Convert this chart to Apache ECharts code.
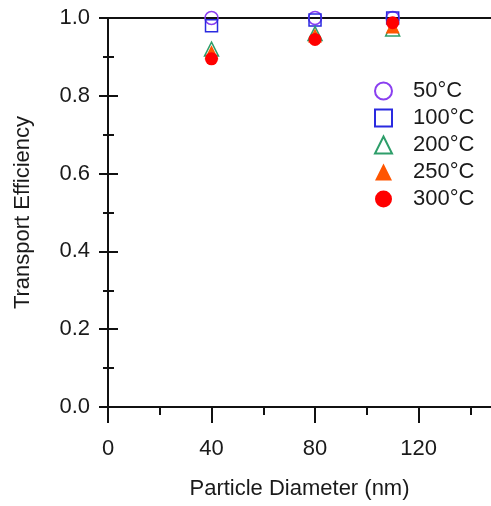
<!DOCTYPE html>
<html>
<head>
<meta charset="utf-8">
<script src="https://cdn.jsdelivr.net/npm/echarts@6/dist/echarts.min.js"></script>
<style>
  html, body { margin: 0; padding: 0; background: #fff; }
  #chart { width: 491px; height: 506px; }
</style>
</head>
<body>
<div id="chart"></div>
<script>
// Particle diameters (nm) measured at each temperature
const diameters = [40, 80, 110];

// Transport efficiency per temperature
const eff50 = [1.0, 1.0, 1.0];
const eff100 = [0.98, 0.995, 1.0];
const eff200 = [0.92, 0.96, 0.972];
const eff250 = [0.912, 0.955, 0.978];
const eff300 = [0.895, 0.945, 0.988];

const seriesNames = ['50°C', '100°C', '200°C', '250°C', '300°C'];

// Axis tick positions
const xMajorTicks = [0, 40, 80, 120];
const xMinorTicks = [20, 60, 100, 140];

const FONT = '"Liberation Sans", Arial, sans-serif';
const INK = '#111';

function pairs(ys) {
  return diameters.map((d, i) => [d, ys[i]]);
}

const chart = echarts.init(document.getElementById('chart'));

const xBase = { type: 'value', min: 0, max: 148, gridIndex: 0, splitLine: { show: false } };
const yBase = { type: 'value', min: 0, max: 1, interval: 0.2, splitLine: { show: false } };

chart.setOption({
  animation: false,
  backgroundColor: '#fff',
  textStyle: { fontFamily: FONT },
  grid: { left: 108, right: 0, top: 18, bottom: 99, containLabel: false },
  legend: {
    orient: 'vertical',
    left: 369,
    top: 75,
    itemGap: 5,
    itemWidth: 17,
    itemHeight: 17,
    textStyle: { fontSize: 22, color: '#1a1a1a', fontFamily: FONT, padding: [0, 0, 0, 16] },
    data: seriesNames
  },
  xAxis: [
    Object.assign({}, xBase, {
      position: 'bottom',
      name: 'Particle Diameter (nm)',
      nameLocation: 'middle',
      nameGap: 71,
      nameTextStyle: { fontSize: 22, color: '#1a1a1a', fontFamily: FONT },
      axisLine: { show: true, onZero: false, lineStyle: { color: INK, width: 2 } },
      axisTick: { show: true, length: 16, customValues: xMajorTicks, lineStyle: { color: INK, width: 2 } },
      axisLabel: { customValues: xMajorTicks, fontSize: 22, color: '#1a1a1a', margin: 31, fontFamily: FONT }
    }),
    Object.assign({}, xBase, {
      position: 'bottom',
      axisLine: { show: false, onZero: false },
      axisTick: { show: true, length: 8, customValues: xMinorTicks, lineStyle: { color: INK, width: 2 } },
      axisLabel: { show: false }
    }),
    Object.assign({}, xBase, {
      position: 'top',
      axisLine: { show: true, onZero: false, lineStyle: { color: INK, width: 2 } },
      axisTick: { show: false },
      axisLabel: { show: false }
    })
  ],
  yAxis: [
    Object.assign({}, yBase, {
      position: 'left',
      name: 'Transport Efficiency',
      nameLocation: 'middle',
      nameGap: 74,
      nameTextStyle: { fontSize: 22, color: '#1a1a1a', fontFamily: FONT },
      axisLine: { show: true, onZero: false, lineStyle: { color: INK, width: 2 } },
      axisTick: { show: true, length: 9, lineStyle: { color: INK, width: 2 } },
      minorTick: { show: true, splitNumber: 2, length: 5, lineStyle: { color: INK, width: 2 } },
      axisLabel: {
        fontSize: 22, color: '#1a1a1a', margin: 18, fontFamily: FONT,
        formatter: v => v.toFixed(1)
      }
    }),
    Object.assign({}, yBase, {
      position: 'left',
      axisLine: { show: false, onZero: false },
      axisTick: { show: true, inside: true, length: 10, lineStyle: { color: INK, width: 2 } },
      minorTick: { show: true, splitNumber: 2, length: 6, lineStyle: { color: INK, width: 2 } },
      axisLabel: { show: false }
    })
  ],
  series: [
    {
      name: seriesNames[0], type: 'scatter', symbol: 'circle', symbolSize: 13,
      itemStyle: { color: 'rgba(255,255,255,0)', borderColor: '#8a3ff0', borderWidth: 1.5, opacity: 1 },
      data: pairs(eff50), z: 3
    },
    {
      name: seriesNames[1], type: 'scatter', symbol: 'rect', symbolSize: 12,
      itemStyle: { color: 'rgba(255,255,255,0)', borderColor: '#2a2ae0', borderWidth: 1.5, opacity: 1 },
      data: pairs(eff100), z: 3
    },
    {
      name: seriesNames[2], type: 'scatter', symbol: 'triangle', symbolSize: 14,
      itemStyle: { color: 'rgba(255,255,255,0)', borderColor: '#2e9e6a', borderWidth: 1.5, opacity: 1 },
      data: pairs(eff200), z: 3
    },
    {
      name: seriesNames[3], type: 'scatter', symbol: 'triangle', symbolSize: 14,
      itemStyle: { color: '#ff5500', opacity: 1 },
      data: pairs(eff250), z: 3
    },
    {
      name: seriesNames[4], type: 'scatter', symbol: 'circle', symbolSize: 13,
      itemStyle: { color: '#ff0000', opacity: 1 },
      data: pairs(eff300), z: 3
    }
  ]
});
</script>
</body>
</html>
